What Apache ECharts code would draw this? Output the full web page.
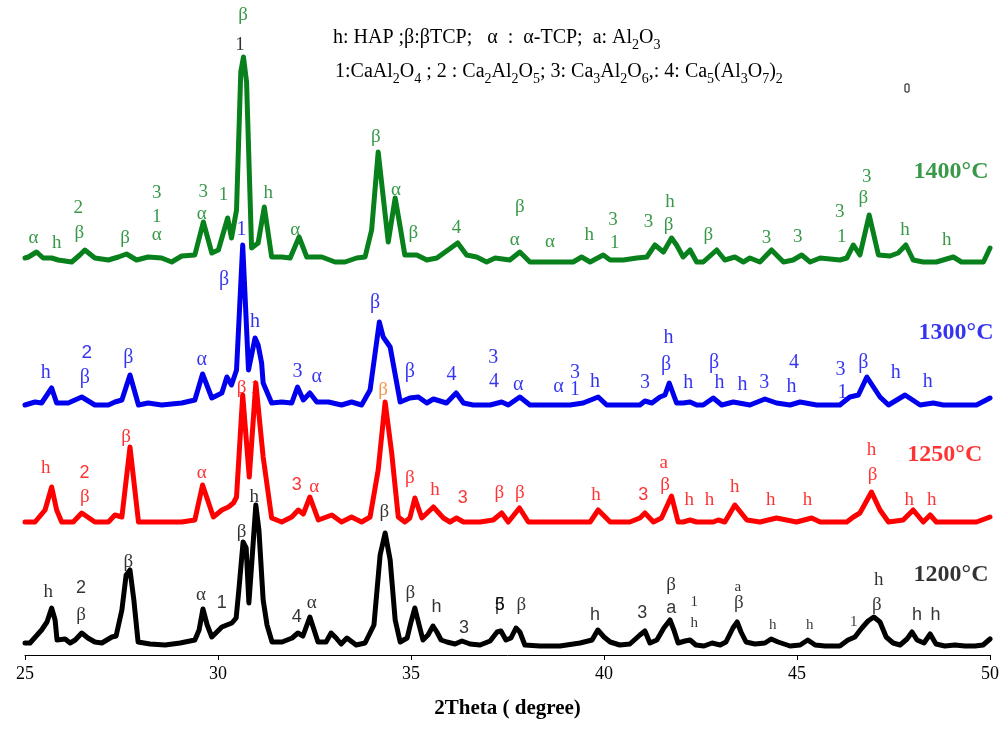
<!DOCTYPE html>
<html>
<head>
<meta charset="utf-8">
<script src="https://cdn.jsdelivr.net/npm/echarts@6/dist/echarts.min.js"></script>
<style>
  html, body { margin: 0; padding: 0; background: #fff; }
  #chart { width: 1008px; height: 747px; }
</style>
</head>
<body>
<div id="chart"></div>
<script>
// XRD patterns: [2θ (degree), intensity (a.u.) above the pattern's own baseline]
const pattern1200 = [
  [25.00,3],[25.13,3],[25.43,16],[25.57,24],[25.69,38],[25.78,26],[25.83,6],[26.04,7],[26.17,3],[26.30,6],
  [26.47,13],[26.63,8],[26.81,4],[26.99,3],[27.25,9],[27.36,10],[27.51,36],[27.62,71],[27.72,76],[27.82,46],
  [27.93,4],[28.24,2],[28.63,1],[29.02,3],[29.40,6],[29.51,16],[29.61,37],[29.72,21],[29.84,9],[29.97,14],
  [30.10,19],[30.36,23],[30.47,28],[30.54,56],[30.65,104],[30.73,98],[30.80,43],[30.88,86],[30.98,141],[31.06,116],
  [31.17,46],[31.27,21],[31.40,4],[31.66,4],[31.92,8],[32.07,13],[32.20,10],[32.38,29],[32.49,16],[32.59,4],
  [32.80,4],[32.93,13],[33.06,8],[33.19,2],[33.34,8],[33.58,1],[33.81,3],[34.04,21],[34.20,91],[34.33,113],
  [34.46,86],[34.59,26],[34.72,4],[34.90,8],[35.00,24],[35.10,38],[35.21,21],[35.31,6],[35.44,11],[35.57,20],
  [35.67,14],[35.78,6],[35.93,4],[36.14,2],[36.32,5],[36.53,2],[36.79,1],[37.05,5],[37.23,14],[37.33,15],
  [37.46,6],[37.59,8],[37.72,18],[37.82,14],[37.95,1],[38.34,0],[38.86,0],[39.38,3],[39.69,6],[39.84,16],
  [40.00,9],[40.16,4],[40.41,1],[40.67,2],[40.93,11],[41.06,15],[41.19,3],[41.37,6],[41.55,18],[41.71,26],
  [41.81,16],[41.92,3],[42.10,5],[42.23,6],[42.38,1],[42.59,0],[42.80,3],[43.01,1],[43.16,4],[43.34,18],
  [43.45,24],[43.55,14],[43.68,4],[43.91,2],[44.17,3],[44.33,7],[44.51,4],[44.82,0],[45.08,1],[45.28,6],
  [45.47,1],[45.73,0],[46.11,0],[46.32,6],[46.50,9],[46.68,18],[46.84,25],[46.99,29],[47.15,24],[47.31,9],
  [47.49,3],[47.67,1],[47.85,7],[47.98,14],[48.11,6],[48.29,3],[48.45,12],[48.60,2],[48.83,0],[49.09,1],
  [49.35,0],[49.61,0],[49.82,1],[50.00,7]
];
const pattern1250 = [
  [25.00,0],[25.26,0],[25.52,12],[25.69,35],[25.82,12],[25.95,0],[26.12,0],[26.25,0],[26.47,9],[26.81,0],
  [27.16,0],[27.33,7],[27.51,5],[27.72,75],[27.94,0],[28.19,0],[28.54,0],[29.06,0],[29.40,2],[29.60,37],
  [29.88,5],[30.10,12],[30.27,15],[30.40,19],[30.48,25],[30.64,127],[30.81,45],[30.98,139],[31.17,65],[31.39,4],
  [31.65,0],[31.91,5],[32.08,12],[32.21,8],[32.38,25],[32.60,2],[32.95,7],[33.20,0],[33.46,5],[33.72,0],
  [33.94,5],[34.15,52],[34.33,120],[34.50,69],[34.67,5],[34.84,0],[34.97,4],[35.10,24],[35.28,4],[35.58,15],
  [35.84,4],[36.01,0],[36.18,4],[36.36,0],[36.79,0],[37.13,2],[37.35,9],[37.52,0],[37.81,14],[38.04,0],
  [38.95,0],[39.64,0],[39.85,12],[40.16,0],[40.67,0],[40.93,4],[41.06,9],[41.28,0],[41.49,4],[41.75,26],
  [41.92,0],[42.05,0],[42.23,2],[42.40,0],[42.83,0],[42.96,2],[43.13,0],[43.39,17],[43.70,2],[44.04,0],
  [44.47,4],[44.99,0],[45.38,4],[45.60,0],[46.29,0],[46.46,5],[46.63,9],[46.93,30],[47.15,12],[47.37,0],
  [47.75,2],[48.01,12],[48.27,0],[48.45,7],[48.61,0],[49.13,0],[49.65,0],[50.00,5]
];
const pattern1300 = [
  [25.00,0],[25.26,3],[25.43,2],[25.69,17],[25.82,2],[26.12,2],[26.47,8],[26.81,0],[27.16,0],[27.33,3],
  [27.51,5],[27.72,30],[27.94,0],[28.19,2],[28.54,0],[29.06,2],[29.40,5],[29.60,31],[29.84,7],[30.10,12],
  [30.23,28],[30.35,20],[30.48,35],[30.64,160],[30.79,35],[30.96,67],[31.04,60],[31.13,42],[31.17,22],[31.39,2],
  [31.65,3],[31.91,2],[32.06,18],[32.21,5],[32.38,12],[32.56,3],[32.86,3],[33.20,0],[33.46,3],[33.72,0],
  [33.94,15],[34.18,83],[34.28,68],[34.46,58],[34.63,22],[34.72,3],[34.97,7],[35.19,8],[35.41,2],[35.58,6],
  [35.92,2],[36.17,12],[36.36,2],[36.61,0],[37.05,0],[37.35,3],[37.52,0],[37.82,8],[38.08,0],[38.60,0],
  [38.95,0],[39.12,0],[39.46,2],[39.85,8],[40.07,0],[40.50,0],[40.93,0],[41.06,4],[41.24,2],[41.45,8],
  [41.58,10],[41.69,22],[41.88,2],[42.05,2],[42.23,3],[42.40,0],[42.57,0],[42.83,7],[43.05,0],[43.35,3],
  [43.78,0],[44.17,6],[44.47,2],[44.82,0],[45.08,3],[45.51,0],[45.85,0],[46.11,0],[46.37,8],[46.59,10],
  [46.81,28],[47.15,8],[47.37,0],[47.80,10],[48.19,0],[48.53,2],[48.79,0],[49.05,0],[49.30,0],[49.65,0],
  [50.00,7]
];
const pattern1400 = [
  [25.00,4],[25.09,5],[25.30,10],[25.47,4],[25.69,4],[25.86,2],[26.21,0],[26.42,7],[26.55,12],[26.81,4],
  [27.16,2],[27.42,5],[27.63,8],[27.89,2],[28.19,5],[28.54,4],[28.80,0],[29.06,6],[29.40,7],[29.62,40],
  [29.84,9],[30.01,12],[30.25,44],[30.35,24],[30.48,52],[30.59,190],[30.66,205],[30.74,180],[30.87,14],[30.91,14],
  [31.04,19],[31.20,55],[31.39,5],[31.65,5],[31.87,4],[32.10,25],[32.30,5],[32.69,5],[33.03,0],[33.29,0],
  [33.59,4],[33.81,5],[33.98,32],[34.15,110],[34.28,65],[34.41,20],[34.59,64],[34.72,35],[34.84,7],[35.15,7],
  [35.41,2],[35.67,4],[36.21,19],[36.44,7],[36.70,5],[36.96,0],[37.18,4],[37.56,2],[37.82,10],[38.08,0],
  [38.52,0],[38.95,0],[39.20,0],[39.42,5],[39.64,0],[39.98,7],[40.16,2],[40.50,2],[40.85,4],[41.11,5],
  [41.32,17],[41.54,10],[41.75,24],[41.88,17],[42.05,5],[42.23,12],[42.40,0],[42.57,0],[42.92,12],[43.13,2],
  [43.39,5],[43.61,0],[43.78,4],[44.04,0],[44.34,12],[44.65,0],[44.90,2],[45.12,7],[45.34,0],[45.60,4],
  [46.11,2],[46.29,4],[46.46,17],[46.63,7],[46.87,47],[47.11,7],[47.41,6],[47.62,9],[47.82,17],[48.01,2],
  [48.27,0],[48.61,0],[49.05,5],[49.26,0],[49.83,0],[50.00,14]
];

// vertical shift of each pattern on the stacked scale
const shift1200 = 9, shift1250 = 133, shift1300 = 250, shift1400 = 393;

// phase marks: [2θ, height on the stacked scale, text]
const marks1400 = [
  [25.22,417,'α'],[25.82,412,'h'],[26.38,447,'2'],[26.41,422,'β'],[27.59,417,'β'],
  [28.41,462,'3'],[28.41,438,'1'],[28.41,420,'α'],[29.62,463,'3'],[29.58,441,'α'],
  [30.14,460,'1'],[31.30,462,'h'],[32.00,425,'α'],[30.65,640,'β'],[34.09,518,'β'],
  [34.61,465,'α'],[35.06,422,'β'],[36.18,427,'4'],[37.82,448,'β'],[37.69,415,'α'],
  [38.60,413,'α'],[39.62,420,'h'],[40.23,435,'3'],[40.28,412,'1'],[41.15,433,'3'],
  [41.71,453,'h'],[41.67,430,'β'],[42.70,420,'β'],[44.21,417,'3'],[45.02,418,'3'],
  [46.11,443,'3'],[46.16,418,'1'],[46.81,478,'3'],[46.72,457,'β'],[47.80,425,'h'],[48.88,415,'h']
];
const marks1300 = [
  [30.61,425,'1'],[30.16,375,'β'],[30.96,333,'h'],[26.60,302,'{s|2}'],[26.55,277,'β'],
  [25.54,282,'h'],[27.68,297,'β'],[29.58,295,'α'],[32.06,283,'3'],[32.56,278,'α'],
  [34.07,352,'β'],[34.97,283,'β'],[36.05,280,'4'],[37.13,297,'3'],[37.15,273,'4'],
  [37.78,270,'α'],[38.82,268,'α'],[39.25,282,'3'],[39.25,265,'1'],[39.77,273,'h'],
  [41.06,272,'3'],[41.67,317,'h'],[41.61,290,'β'],[42.18,272,'h'],[42.85,292,'β'],
  [42.99,272,'h'],[43.59,270,'h'],[44.15,272,'3'],[44.92,292,'4'],[44.86,268,'h'],
  [46.13,285,'3'],[46.18,262,'1'],[46.72,292,'β'],[47.56,282,'h'],[48.39,273,'h']
];
const marks1250 = [
  [25.54,187,'h'],[26.54,182,'{s|2}'],[26.55,158,'β'],[27.62,218,'β'],[29.58,182,'α'],
  [30.61,267,'β'],[30.96,267,'1'],[32.04,170,'{s|3}'],[32.49,168,'α'],[34.97,177,'β'],
  [35.62,165,'h'],[36.34,157,'{s|3}'],[37.29,162,'β'],[37.82,162,'β'],[39.79,160,'h'],
  [41.02,160,'{s|3}'],[41.55,192,'a'],[41.58,170,'β'],[42.21,155,'h'],[42.73,155,'h'],
  [43.39,168,'h'],[44.32,155,'h'],[45.27,155,'h'],[46.93,205,'h'],[46.96,180,'β'],
  [47.91,155,'h'],[48.49,155,'h']
];
const marks1250Strong = [[34.28,265,'β']];
const marks1200 = [
  [30.57,610,'1'],
  [25.60,63,'h'],[26.45,67,'{s|2}'],[26.45,40,'β'],[27.68,93,'β'],[29.56,60,'α'],
  [30.10,52,'{s|1}'],[30.61,123,'β'],[30.94,158,'h'],[32.04,38,'{s|4}'],[32.43,52,'α'],
  [34.31,143,'β'],[34.98,62,'β'],[35.66,48,'{s|h}'],[36.37,27,'{s|3}'],[37.30,50,'β'],
  [37.30,50,'{s|5}'],[37.86,50,'β'],[39.77,40,'{s|h}'],[40.99,42,'{s|3}'],[41.74,70,'β'],
  [41.74,47,'{s|a}'],[42.34,53,'{sm|1}'],[42.34,32,'{sm|h}'],[43.47,68,'{sm|a}'],[43.49,52,'β'],
  [44.37,30,'{sm|h}'],[45.33,30,'{sm|h}'],[46.47,33,'{sm|1}'],[47.12,75,'h'],[47.07,50,'β'],
  [48.11,40,'{s|h}'],[48.59,40,'{s|h}']
];
// sample temperature captions: [2θ, height on the stacked scale, text]
const captions = [
  [48.99,483,'1400°C'],[49.12,322,'1300°C'],[48.83,200,'1250°C'],[48.99,80,'1200°C']
];

const GREEN = '#08801c', BLUE = '#0000ee', RED = '#ff0000', BLACK = '#000000', ORANGE = '#f07a20';
const SERIF = 'Liberation Serif', SANS = 'Liberation Sans';

function shifted(pattern, shift) {
  return pattern.map(([t, v]) => [t, v + shift]);
}

function patternSeries(name, pattern, shift, color) {
  return {
    name, type: 'line', data: shifted(pattern, shift), showSymbol: false, silent: true,
    lineStyle: { width: 5, color, join: 'round', cap: 'round' }, z: 2
  };
}

function markSeries(marks, color, size) {
  return {
    type: 'scatter', data: marks, symbolSize: 0, silent: true, z: 5,
    label: {
      show: true, position: 'inside', color, fontFamily: SERIF, fontSize: size,
      formatter: p => p.data[2],
      rich: {
        s: { fontFamily: SANS, fontSize: size - 1, color },
        sm: { fontFamily: SERIF, fontSize: size - 4, color }
      }
    }
  };
}

const chart = echarts.init(document.getElementById('chart'), null, { renderer: 'canvas' });

const captionColors = [GREEN, BLUE, RED, BLACK];
const subStyle = { fontFamily: SERIF, fontSize: 14, lineHeight: 28, verticalAlign: 'bottom', fill: '#000' };

chart.setOption({
  animation: false,
  backgroundColor: '#ffffff',
  grid: { left: 25, right: 18, top: 0, bottom: 92 },
  xAxis: {
    type: 'value', min: 25, max: 50, interval: 5,
    axisLine: { lineStyle: { color: '#000', width: 1 } },
    axisTick: { show: true, length: 5, lineStyle: { color: '#000' } },
    splitLine: { show: false },
    axisLabel: { color: '#000', fontFamily: SERIF, fontSize: 18, margin: 10 },
    name: '2Theta ( degree)', nameLocation: 'middle', nameGap: 43,
    nameTextStyle: { color: '#000', fontFamily: SERIF, fontSize: 21, fontWeight: 'bold' }
  },
  yAxis: { type: 'value', min: 0, max: 655, show: false },
  series: [
    patternSeries('1400°C', pattern1400, shift1400, GREEN),
    patternSeries('1300°C', pattern1300, shift1300, BLUE),
    patternSeries('1250°C', pattern1250, shift1250, RED),
    patternSeries('1200°C', pattern1200, shift1200, BLACK),
    markSeries(marks1400, GREEN, 19),
    markSeries(marks1300, BLUE, 20),
    markSeries(marks1250, RED, 19),
    markSeries(marks1250Strong, ORANGE, 19),
    markSeries(marks1200, BLACK, 19),
    {
      type: 'scatter', symbolSize: 0, silent: true, z: 5,
      data: captions.map((c, i) => ({ value: c, label: { color: captionColors[i] } })),
      label: {
        show: true, position: 'inside', fontFamily: SERIF, fontSize: 24, fontWeight: 'bold',
        formatter: p => p.data.value[2]
      }
    }
  ],
  graphic: [
    {
      type: 'text', left: 333, top: 24, silent: true,
      style: {
        text: 'h: HAP ;β:βTCP;   α  :  α-TCP;  a: Al{sub|2}O{sub|3}',
        fontFamily: SERIF, fontSize: 20, fill: '#000', lineHeight: 28,
        rich: { sub: subStyle }
      }
    },
    {
      type: 'text', left: 335, top: 58, silent: true,
      style: {
        text: '1:CaAl{sub|2}O{sub|4} ; 2 : Ca{sub|2}Al{sub|2}O{sub|5}; 3: Ca{sub|3}Al{sub|2}O{sub|6},: 4: Ca{sub|5}(Al{sub|3}O{sub|7}){sub|2}',
        fontFamily: SERIF, fontSize: 20, fill: '#000', lineHeight: 28,
        rich: { sub: subStyle }
      }
    },
    {
      type: 'rect', silent: true,
      shape: { x: 905, y: 84, width: 4, height: 8, r: 1 },
      style: { fill: 'none', stroke: '#000', lineWidth: 1 }
    }
  ]
});
</script>
</body>
</html>
